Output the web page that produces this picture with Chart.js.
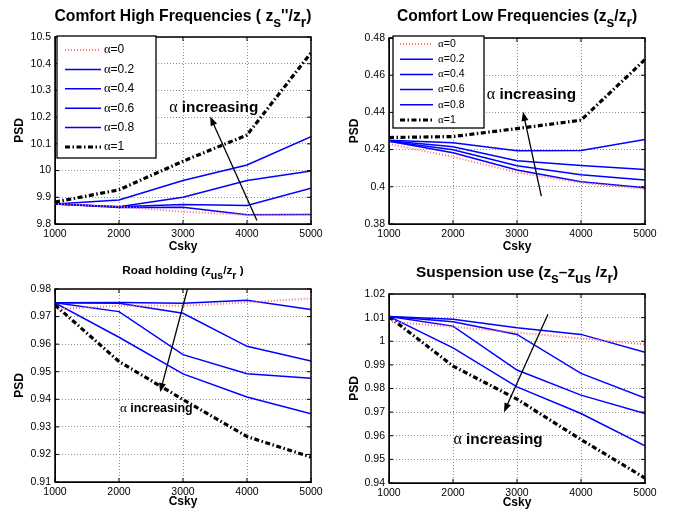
<!DOCTYPE html>
<html>
<head>
<meta charset="utf-8">
<script src="https://cdn.jsdelivr.net/npm/chart.js@4.4.0/dist/chart.umd.min.js"></script>
<style>
  body { margin: 0; background: #fff; }
  #wrap { position: relative; width: 681px; height: 511px; }
  canvas { position: absolute; }
</style>
</head>
<body>
<div id="wrap">
  <canvas id="highFreq" width="340" height="255" style="left:0;top:0;width:340px;height:255px"></canvas>
  <canvas id="lowFreq" width="341" height="255" style="left:340px;top:0;width:341px;height:255px"></canvas>
  <canvas id="roadHolding" width="340" height="256" style="left:0;top:255px;width:340px;height:256px"></canvas>
  <canvas id="suspension" width="341" height="256" style="left:340px;top:255px;width:341px;height:256px"></canvas>
</div>
<script>
const csky = [1000, 2000, 3000, 4000, 5000];
const alphaLabels = ['α=0', 'α=0.2', 'α=0.4', 'α=0.6', 'α=0.8', 'α=1'];

// one row per alpha value (0, 0.2, 0.4, 0.6, 0.8, 1)
const highFreqPsd = [
  [9.875, 9.865, 9.846, 9.834, 9.836],
  [9.875, 9.862, 9.863, 9.835, 9.836],
  [9.875, 9.865, 9.873, 9.869, 9.934],
  [9.875, 9.865, 9.900, 9.963, 9.998],
  [9.875, 9.890, 9.963, 10.021, 10.127],
  [9.882, 9.928, 10.035, 10.133, 10.441]
];
const lowFreqPsd = [
  [0.4230, 0.4161, 0.4077, 0.4022, 0.3988],
  [0.4245, 0.4183, 0.4090, 0.4027, 0.3995],
  [0.4245, 0.4199, 0.4113, 0.4065, 0.4036],
  [0.4248, 0.4215, 0.4140, 0.4115, 0.4093],
  [0.4250, 0.4237, 0.4194, 0.4195, 0.4254],
  [0.4265, 0.4270, 0.4313, 0.4358, 0.4684]
];
const roadHoldingPsd = [
  [0.9727, 0.9739, 0.9739, 0.9751, 0.9766],
  [0.9750, 0.9751, 0.9748, 0.9759, 0.9726],
  [0.9750, 0.9748, 0.9712, 0.9592, 0.9539],
  [0.9750, 0.9718, 0.9562, 0.9493, 0.9476],
  [0.9750, 0.9625, 0.9492, 0.9408, 0.9347],
  [0.9742, 0.9537, 0.9399, 0.9265, 0.9190]
];
const suspensionPsd = [
  [1.0083, 1.0061, 1.0037, 1.0012, 0.9987],
  [1.0105, 1.0093, 1.0057, 1.0029, 0.9953],
  [1.0105, 1.0083, 1.0029, 0.9864, 0.9760],
  [1.0105, 1.0064, 0.9878, 0.9772, 0.9694],
  [1.0105, 0.9972, 0.9807, 0.9694, 0.9557],
  [1.0104, 0.9895, 0.9755, 0.9584, 0.9421]
];

// y axis ranges [min, max, step]
const highFreqRange = [9.8, 10.5, 0.1];
const lowFreqRange = [0.38, 0.48, 0.02];
const roadHoldingRange = [0.91, 0.98, 0.01];
const suspensionRange = [0.94, 1.02, 0.01];

const SANS = '"Liberation Sans", Arial, Helvetica, sans-serif';
const SERIF = '"Liberation Serif", "Times New Roman", serif';

const lineStyles = [
  { borderColor: '#ff7070', borderWidth: 2, borderDash: [1, 2] },
  { borderColor: '#0000ff', borderWidth: 1.5 },
  { borderColor: '#0000ff', borderWidth: 1.5 },
  { borderColor: '#0000ff', borderWidth: 1.5 },
  { borderColor: '#0000ff', borderWidth: 1.5 },
  { borderColor: '#000000', borderWidth: 3.2, borderDash: [5, 2.5, 1.5, 2.5] }
];

// title pieces: [text, isSubscript]
function drawRich(ctx, parts, cx, baseY, size) {
  const segs = parts.map(([text, sub]) => ({
    text, sub,
    font: `bold ${sub ? size * 0.9 : size}px ${SANS}`
  }));
  let total = 0;
  segs.forEach(s => { ctx.font = s.font; s.w = ctx.measureText(s.text).width; total += s.w; });
  let cur = cx - total / 2;
  ctx.textAlign = 'left';
  ctx.textBaseline = 'alphabetic';
  segs.forEach(s => {
    ctx.font = s.font;
    ctx.fillText(s.text, cur, baseY + (s.sub ? size * 0.4 : 0));
    cur += s.w;
  });
}

// "α" in a serif face, the rest in sans
function drawAlphaText(ctx, rest, x, y, size, bold, centered) {
  const aFont = `${size * 1.05}px ${SERIF}`;
  const rFont = `${bold ? 'bold ' : ''}${size}px ${SANS}`;
  ctx.font = aFont; const aw = ctx.measureText('α').width;
  ctx.font = rFont; const rw = ctx.measureText(rest).width;
  let start = centered ? x - (aw + rw) / 2 : x;
  ctx.textAlign = 'left';
  ctx.textBaseline = 'middle';
  ctx.font = aFont; ctx.fillText('α', start, y);
  ctx.font = rFont; ctx.fillText(rest, start + aw, y);
}

const matlabLook = {
  id: 'matlabLook',
  afterDraw(chart) {
    const opts = chart.options.plugins.matlabLook;
    const { ctx, chartArea: a, scales: { x, y } } = chart;
    ctx.save();
    ctx.fillStyle = '#000';
    ctx.strokeStyle = '#000';
    ctx.setLineDash([]);

    // inward tick marks
    ctx.lineWidth = 1;
    ctx.beginPath();
    x.ticks.forEach(t => {
      const px = x.getPixelForValue(t.value);
      ctx.moveTo(px, a.bottom); ctx.lineTo(px, a.bottom - 4);
      ctx.moveTo(px, a.top); ctx.lineTo(px, a.top + 4);
    });
    y.ticks.forEach(t => {
      const py = y.getPixelForValue(t.value);
      ctx.moveTo(a.left, py); ctx.lineTo(a.left + 4, py);
      ctx.moveTo(a.right, py); ctx.lineTo(a.right - 4, py);
    });
    ctx.stroke();

    // box
    ctx.lineWidth = 1.5;
    ctx.strokeRect(a.left, a.top, a.right - a.left, a.bottom - a.top);

    // title
    drawRich(ctx, opts.title, (a.left + a.right) / 2, opts.titleY, opts.titleSize);

    // annotation
    const an = opts.note;
    const x1 = x.getPixelForValue(an.from[0]), y1 = y.getPixelForValue(an.from[1]);
    const x2 = x.getPixelForValue(an.to[0]), y2 = y.getPixelForValue(an.to[1]);
    const ang = Math.atan2(y2 - y1, x2 - x1);
    const head = 9;
    ctx.lineWidth = 1.3;
    ctx.beginPath();
    ctx.moveTo(x1, y1);
    ctx.lineTo(x2 - Math.cos(ang) * head * 0.8, y2 - Math.sin(ang) * head * 0.8);
    ctx.stroke();
    ctx.beginPath();
    ctx.moveTo(x2, y2);
    ctx.lineTo(x2 - head * Math.cos(ang) + 3.5 * Math.sin(ang), y2 - head * Math.sin(ang) - 3.5 * Math.cos(ang));
    ctx.lineTo(x2 - head * Math.cos(ang) - 3.5 * Math.sin(ang), y2 - head * Math.sin(ang) + 3.5 * Math.cos(ang));
    ctx.closePath();
    ctx.fill();
    drawAlphaText(ctx, ' increasing', x.getPixelForValue(an.text[0]), y.getPixelForValue(an.text[1]), an.size, true, true);

    // legend inside the axes
    const lg = opts.legend;
    if (lg) {
      const bx = a.left + lg.left, by = a.top + lg.top;
      ctx.fillStyle = '#fff';
      ctx.fillRect(bx, by, lg.width, lg.height);
      ctx.lineWidth = 1.3;
      ctx.strokeRect(bx, by, lg.width, lg.height);
      chart.data.datasets.forEach((ds, i) => {
        const ry = by + lg.firstRow + i * lg.rowGap;
        ctx.save();
        ctx.strokeStyle = ds.borderColor;
        ctx.lineWidth = ds.borderWidth;
        ctx.setLineDash(ds.borderDash || []);
        ctx.beginPath();
        ctx.moveTo(bx + lg.lineStart, ry);
        ctx.lineTo(bx + lg.lineEnd, ry);
        ctx.stroke();
        ctx.restore();
        ctx.fillStyle = '#000';
        drawAlphaText(ctx, ds.label.slice(1), bx + lg.textX, ry, lg.fontSize, false, false);
      });
    }
    ctx.restore();
  }
};

function fmt(v) {
  return String(Number(v.toFixed(4)));
}

function makeChart(id, series, range, setup) {
  const canvas = document.getElementById(id);
  const W = canvas.width, H = canvas.height;
  const area = setup.area; // [left, top, right, bottom] in canvas pixels
  return new Chart(canvas, {
    type: 'line',
    data: {
      datasets: series.map((row, i) => Object.assign({
        label: alphaLabels[i],
        data: row.map((v, j) => ({ x: csky[j], y: v })),
        pointRadius: 0,
        tension: 0,
        fill: false
      }, lineStyles[i]))
    },
    options: {
      responsive: false,
      animation: false,
      devicePixelRatio: 1,
      layout: { padding: { left: 0, top: area[1], right: W - area[2], bottom: 0 } },
      plugins: {
        legend: { display: false },
        tooltip: { enabled: false },
        matlabLook: setup
      },
      scales: {
        x: {
          type: 'linear',
          min: 1000, max: 5000,
          ticks: { stepSize: 1000, color: '#000', font: { family: SANS, size: 10.5 }, padding: 4, maxRotation: 0, callback: v => String(v) },
          grid: { color: '#909090', drawTicks: false },
          border: { display: true, color: '#000', dash: [1, 2] },
          title: { display: true, text: 'Csky', color: '#000', font: { family: SANS, size: 12, weight: 'bold', lineHeight: 1.2 }, padding: { top: 0, bottom: setup.xTitlePad } },
          afterFit: s => { s.height = H - area[3]; }
        },
        y: {
          min: range[0], max: range[1],
          ticks: { stepSize: range[2], color: '#000', font: { family: SANS, size: 10.5 }, padding: 4, callback: v => fmt(v) },
          grid: { color: '#909090', drawTicks: false },
          border: { display: true, color: '#000', dash: [1, 2] },
          title: { display: true, text: 'PSD', color: '#000', font: { family: SANS, size: 12, weight: 'bold', lineHeight: 1.2 }, padding: { top: setup.yTitlePad, bottom: 0 } },
          afterFit: s => { s.width = area[0]; }
        }
      }
    },
    plugins: [matlabLook]
  });
}

makeChart('highFreq', highFreqPsd, highFreqRange, {
  area: [55, 37, 311, 224],
  title: [['Comfort High Frequencies ( z', 0], ['s', 1], ["''/z", 0], ['r', 1], [')', 0]],
  titleY: 20.5, titleSize: 15.7,
  xTitlePad: 0.8, yTitlePad: 12.8,
  note: { from: [4155, 9.813], to: [3425, 10.202], text: [3480, 10.234], size: 15.3 },
  legend: { left: 2, top: -1, width: 99, height: 122, firstRow: 14, rowGap: 19.4, lineStart: 8, lineEnd: 44, textX: 47, fontSize: 12 }
});

makeChart('lowFreq', lowFreqPsd, lowFreqRange, {
  area: [49, 38, 305, 224],
  title: [['Comfort Low Frequencies (z', 0], ['s', 1], ['/z', 0], ['r', 1], [')', 0]],
  titleY: 20.5, titleSize: 15.6,
  xTitlePad: 0.8, yTitlePad: 7.8,
  note: { from: [3380, 0.395], to: [3094, 0.4403], text: [3225, 0.4497], size: 15.3 },
  legend: { left: 4, top: -2, width: 91, height: 92, firstRow: 8, rowGap: 15.2, lineStart: 7, lineEnd: 40, textX: 45, fontSize: 10.5 }
});

makeChart('roadHolding', roadHoldingPsd, roadHoldingRange, {
  area: [55, 34, 311, 227],
  title: [['Road holding (z', 0], ['us', 1], ['/z', 0], ['r', 1], [' )', 0]],
  titleY: 19, titleSize: 11.8,
  xTitlePad: 1.8, yTitlePad: 12.8,
  note: { from: [3070, 0.980], to: [2643, 0.9426], text: [2583, 0.9366], size: 12.5 },
  legend: null
});

makeChart('suspension', suspensionPsd, suspensionRange, {
  area: [49, 39, 305, 228],
  title: [['Suspension use (z', 0], ['s', 1], ['\u2013z', 0], ['us', 1], [' /z', 0], ['r', 1], [')', 0]],
  titleY: 21.5, titleSize: 15.4,
  xTitlePad: 1.2, yTitlePad: 7.8,
  note: { from: [3484, 1.0114], to: [2797, 0.970], text: [2703, 0.9585], size: 15.3 },
  legend: null
});
</script>
</body>
</html>
